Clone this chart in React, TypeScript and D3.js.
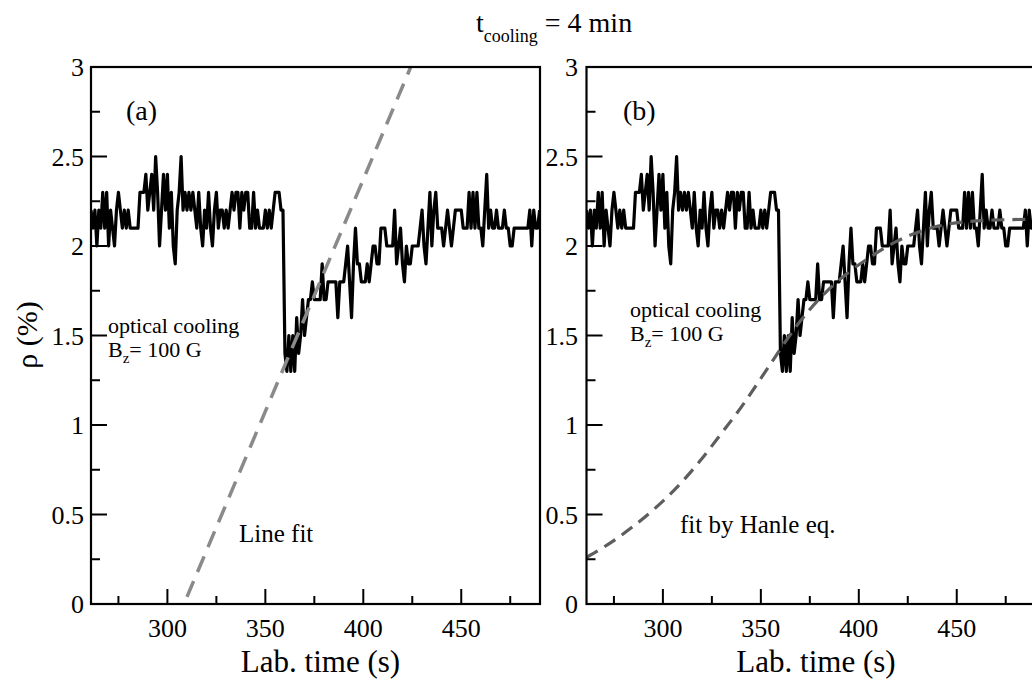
import React from "react";
import * as d3 from "d3";

const W = 1032;
const H = 682;

// measured data (rho in %) sampled every second, starting at t = 261 s
const timeStart = 261;
const rhoValues = [
  2.2, 2.1, 2.2, 2.0, 2.2, 2.1, 2.3, 2.1, 2.3, 2.0,
  2.2, 2.1, 2.0, 2.2, 2.3, 2.2, 2.1, 2.2, 2.1, 2.2,
  2.1, 2.1, 2.1, 2.1, 2.1, 2.3, 2.3, 2.3, 2.4, 2.2,
  2.3, 2.4, 2.2, 2.5, 2.3, 2.0, 2.2, 2.4, 2.2, 2.4,
  2.1, 2.3, 2.0, 1.9, 2.2, 2.3, 2.5, 2.2, 2.3, 2.2,
  2.3, 2.2, 2.3, 2.2, 2.1, 2.3, 2.1, 2.0, 2.2, 2.1,
  2.3, 2.1, 2.0, 2.2, 2.3, 2.1, 2.2, 2.2, 2.1, 2.2,
  2.1, 2.2, 2.3, 2.2, 2.3, 2.3, 2.1, 2.3, 2.2, 2.3,
  2.3, 2.1, 2.1, 2.3, 2.1, 2.2, 2.1, 2.1, 2.1, 2.2,
  2.1, 2.2, 2.1, 2.2, 2.3, 2.3, 2.3, 2.2, 2.2,
  1.4, 1.3, 1.5, 1.3, 1.5, 1.3, 1.6, 1.4, 1.5, 1.7,
  1.5, 1.6, 1.7, 1.7, 1.8, 1.7, 1.7, 1.7, 1.7, 1.9,
  1.7, 1.7, 1.8, 1.8, 1.8, 1.8, 1.8, 1.6, 1.8, 1.8,
  1.8, 1.9, 2.0, 1.8, 1.6, 1.9, 2.1, 1.9, 1.9, 1.8,
  1.8, 1.8, 1.9, 1.8, 1.9, 2.0, 2.0, 1.9, 1.9, 2.1,
  2.1, 2.1, 2.0, 2.0, 2.0, 2.0, 2.2, 1.9, 2.0, 2.1,
  1.9, 1.8, 2.0, 1.9, 1.9, 2.0, 2.0, 2.0, 2.0, 2.1,
  2.2, 2.0, 1.9, 2.1, 2.3, 2.0, 2.2, 2.3, 2.1, 2.1,
  2.1, 2.0, 2.1, 2.2, 2.1, 2.0, 2.1, 2.2, 2.2, 2.2,
  2.2, 2.1, 2.1, 2.1, 2.3, 2.1, 2.3, 2.1, 2.3, 2.1,
  2.1, 2.0, 2.2, 2.4, 2.1, 2.2, 2.1, 2.1, 2.2, 2.1,
  2.1, 2.1, 2.2, 2.1, 2.1, 2.0, 2.0, 2.1, 2.1, 2.1,
  2.1, 2.1, 2.1, 2.1, 2.1, 2.2, 2.0, 2.2, 2.1, 2.1,
  2.2,
];

// line fit (panel a): end points
const lineFitT = [310, 425];
const lineFitRho = [0.04, 3.02];

// Hanle-equation fit (panel b): points
const hanleT = [261, 273, 285, 295, 307, 319, 330, 340, 350, 357, 368, 383, 395, 404, 420, 440, 460, 490];
const hanleRho = [0.26, 0.34, 0.435, 0.525, 0.65, 0.8, 0.955, 1.1, 1.26, 1.375, 1.55, 1.74, 1.855, 1.925, 2.03, 2.11, 2.14, 2.15];

const xMajorTicks = [300, 350, 400, 450];
const xMinorTicks = [275, 325, 375, 425, 475];
const yMajorTicks = [0, 0.5, 1, 1.5, 2, 2.5, 3];
const yMinorTicks = [0.25, 0.75, 1.25, 1.75, 2.25, 2.75];
const yTickLabels = ["0", "0.5", "1", "1.5", "2", "2.5", "3"];

const FONT = "'Liberation Serif', 'Times New Roman', serif";

const TOP = 67;
const BOTTOM = 604;

type PanelProps = {
  id: string;
  x0: number;
  x1: number;
  label: string;
  labelX: number;
  fitText: string;
  fitTextX: number;
  fitTextY: number;
  coolX: number;
  coolY: number;
  yLabelRight: number;
  fit: "line" | "hanle";
};

function Panel(p: PanelProps) {
  const x = d3.scaleLinear().domain([261, 490.2]).range([p.x0, p.x1]);
  const y = d3.scaleLinear().domain([0, 3]).range([BOTTOM, TOP]);
  const pts = rhoValues.map((v, i) => [timeStart + i, v] as [number, number]);
  const line = d3
    .line<[number, number]>()
    .x((d) => x(d[0]))
    .y((d) => y(d[1]));
  let fitPath = "";
  if (p.fit === "line") {
    fitPath = line(lineFitT.map((t, i) => [t, lineFitRho[i]] as [number, number])) || "";
  } else {
    fitPath =
      d3
        .line<[number, number]>()
        .x((d) => x(d[0]))
        .y((d) => y(d[1]))
        .curve(d3.curveMonotoneX)(hanleT.map((t, i) => [t, hanleRho[i]] as [number, number])) || "";
  }
  const cx = (p.x0 + p.x1) / 2 + 5;
  return (
    <g>
      <defs>
        <clipPath id={p.id}>
          <rect x={p.x0} y={TOP} width={p.x1 - p.x0} height={BOTTOM - TOP} />
        </clipPath>
      </defs>
      <g clipPath={`url(#${p.id})`}>
        <path d={line(pts) || ""} fill="none" stroke="#000" strokeWidth={3.2} strokeLinejoin="round" />
        {p.fit === "line" ? (
          <path d={fitPath} fill="none" stroke="#8a8a8a" strokeWidth={3.5} strokeDasharray="17,10" />
        ) : (
          <path d={fitPath} fill="none" stroke="#5e5e5e" strokeWidth={3.2} strokeDasharray="13,8" />
        )}
      </g>
      <rect x={p.x0} y={TOP} width={p.x1 - p.x0} height={BOTTOM - TOP} fill="none" stroke="#000" strokeWidth={2.2} />
      {xMajorTicks.map((t) => (
        <line key={"xM" + t} x1={x(t)} x2={x(t)} y1={BOTTOM} y2={BOTTOM - 15} stroke="#000" strokeWidth={2} />
      ))}
      {xMinorTicks.map((t) => (
        <line key={"xm" + t} x1={x(t)} x2={x(t)} y1={BOTTOM} y2={BOTTOM - 8} stroke="#000" strokeWidth={2} />
      ))}
      {yMajorTicks.map((t) => (
        <line key={"yM" + t} x1={p.x0} x2={p.x0 + 16} y1={y(t)} y2={y(t)} stroke="#000" strokeWidth={2} />
      ))}
      {yMinorTicks.map((t) => (
        <line key={"ym" + t} x1={p.x0} x2={p.x0 + 9} y1={y(t)} y2={y(t)} stroke="#000" strokeWidth={2} />
      ))}
      {xMajorTicks.map((t) => (
        <text key={"xl" + t} x={x(t)} y={BOTTOM + 33} textAnchor="middle" fontSize={26} fontFamily={FONT}>
          {t}
        </text>
      ))}
      {yMajorTicks.map((t, i) => (
        <text key={"yl" + t} x={p.yLabelRight} y={y(t) + 9} textAnchor="end" fontSize={26} fontFamily={FONT}>
          {yTickLabels[i]}
        </text>
      ))}
      <text x={cx} y={672} textAnchor="middle" fontSize={31} fontFamily={FONT}>
        Lab. time (s)
      </text>
      <text x={p.labelX} y={120} fontSize={28} fontFamily={FONT}>
        {p.label}
      </text>
      <text x={p.coolX} y={p.coolY} fontSize={22} fontFamily={FONT}>
        optical cooling
      </text>
      <text x={p.coolX} y={p.coolY + 24} fontSize={22} fontFamily={FONT}>
        B
        <tspan fontSize={15} dy={6}>z</tspan>
        <tspan dy={-6}>= 100 G</tspan>
      </text>
      <text x={p.fitTextX} y={p.fitTextY} fontSize={25} fontFamily={FONT}>
        {p.fitText}
      </text>
    </g>
  );
}

export default function App() {
  return (
    <svg width={W} height={H} style={{ display: "block", position: "absolute", left: 0, top: 0, background: "#fff" }}>
      <rect x={0} y={0} width={W} height={H} fill="#fff" />
      <text x={476} y={32} fontSize={28} fontFamily={FONT}>
        t
        <tspan fontSize={18} dy={10}>cooling</tspan>
        <tspan dy={-10}> = 4 min</tspan>
      </text>
      <text transform="translate(37,335) rotate(-90)" textAnchor="middle" fontSize={30} fontFamily={FONT}>
        ρ (%)
      </text>
      <Panel
        id="clipA"
        x0={91}
        x1={540}
        label="(a)"
        labelX={126}
        fitText="Line fit"
        fitTextX={239}
        fitTextY={542}
        coolX={108}
        coolY={333}
        yLabelRight={84}
        fit="line"
      />
      <Panel
        id="clipB"
        x0={586.5}
        x1={1035.5}
        label="(b)"
        labelX={623}
        fitText="fit by Hanle eq."
        fitTextX={680}
        fitTextY={533}
        coolX={630}
        coolY={317}
        yLabelRight={578}
        fit="hanle"
      />
    </svg>
  );
}
